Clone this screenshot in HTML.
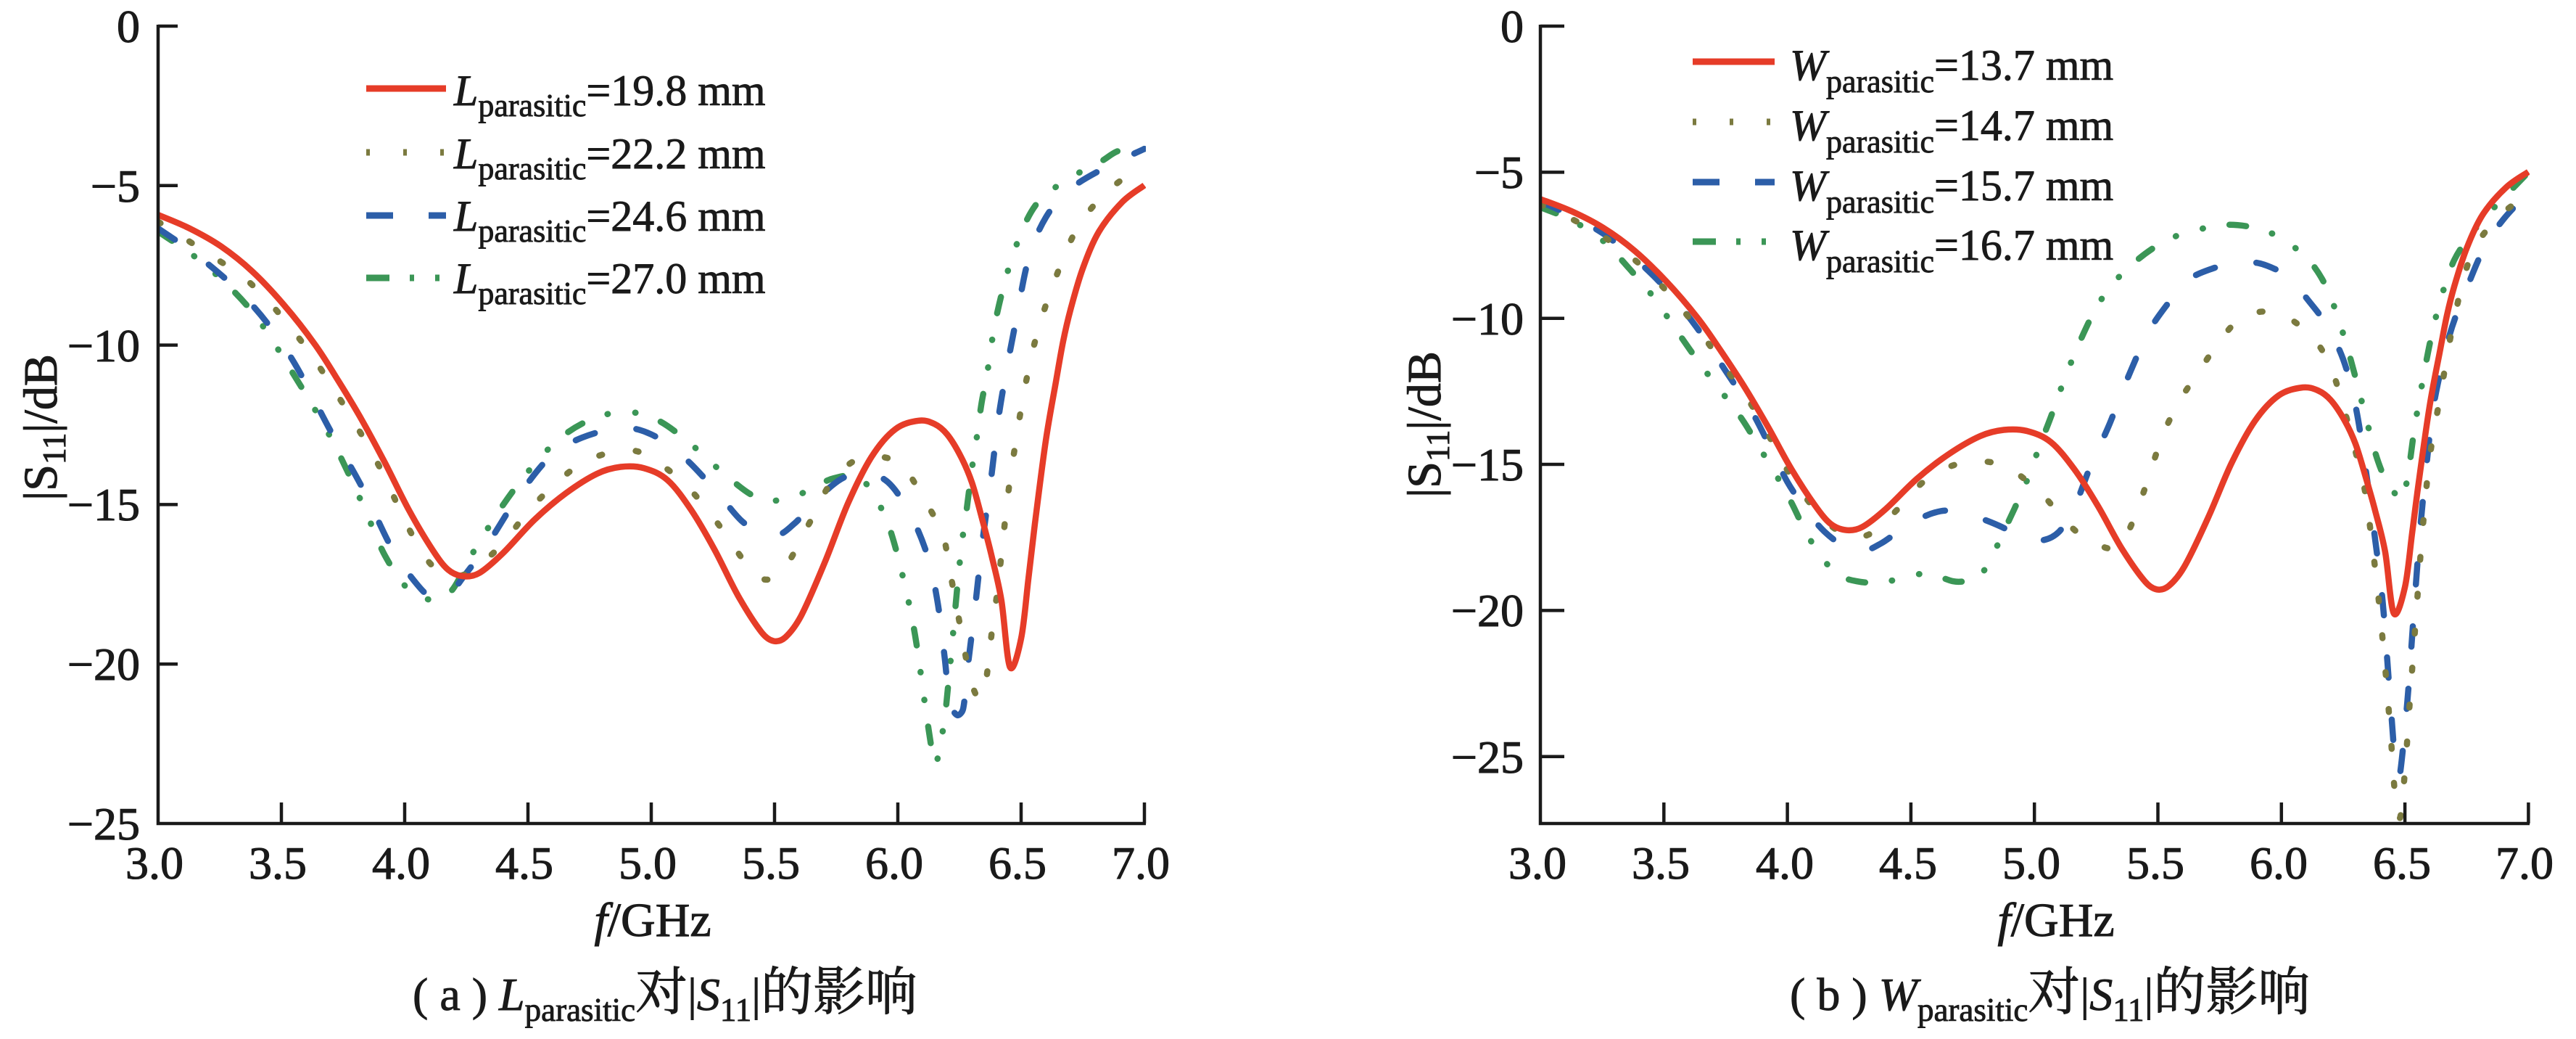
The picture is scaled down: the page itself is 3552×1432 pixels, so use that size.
<!DOCTYPE html>
<html>
<head>
<meta charset="utf-8">
<style>
  html, body { margin: 0; padding: 0; background: #ffffff; overflow: hidden; }
  svg { display: block; }
  text { font-family: "Liberation Serif", "Noto Serif CJK SC", "Noto Sans CJK SC", serif; fill: #1a1a1a; }
  .cjk { font-family: "Noto Serif CJK SC", "Noto Sans CJK SC", serif; }
</style>
</head>
<body>
<svg id="chart" width="3552" height="1432" viewBox="0 0 3552 1432" xmlns="http://www.w3.org/2000/svg" font-family="Liberation Serif, Noto Serif CJK SC, serif">
  <rect x="0" y="0" width="3552" height="1432" fill="#ffffff"/>
  <defs>
    <clipPath id="clipL"><rect x="218" y="0" width="1362" height="1137"/></clipPath>
    <clipPath id="clipR"><rect x="2124" y="0" width="1364" height="1137"/></clipPath>
  </defs>

  <!-- ============ LEFT PLOT ============ -->
  <g id="curvesL" clip-path="url(#clipL)" fill="none" stroke-width="8.5"></g>

  <g stroke="#1a1a1a" stroke-width="4.5" fill="none">
    <path d="M218,34 V1135 H1580"/>
    <path d="M218,36 H245"/>
    <path d="M218,255.8 H245"/>
    <path d="M218,475.6 H245"/>
    <path d="M218,695.4 H245"/>
    <path d="M218,915.2 H245"/>
    <path d="M388,1135 V1106"/>
    <path d="M558,1135 V1106"/>
    <path d="M728,1135 V1106"/>
    <path d="M898,1135 V1106"/>
    <path d="M1068,1135 V1106"/>
    <path d="M1238,1135 V1106"/>
    <path d="M1408,1135 V1106"/>
    <path d="M1578,1135 V1106"/>
  </g>

  <g font-size="64" text-anchor="end" stroke="#1a1a1a" stroke-width="1.1">
    <text x="193" y="58">0</text>
    <text x="193" y="278">−5</text>
    <text x="193" y="498">−10</text>
    <text x="193" y="717">−15</text>
    <text x="193" y="937">−20</text>
    <text x="193" y="1157">−25</text>
  </g>
  <g font-size="64" text-anchor="middle" stroke="#1a1a1a" stroke-width="1.1">
    <text x="213" y="1211">3.0</text>
    <text x="383" y="1211">3.5</text>
    <text x="553" y="1211">4.0</text>
    <text x="723" y="1211">4.5</text>
    <text x="893" y="1211">5.0</text>
    <text x="1063" y="1211">5.5</text>
    <text x="1233" y="1211">6.0</text>
    <text x="1403" y="1211">6.5</text>
    <text x="1573" y="1211">7.0</text>
  </g>

  <text font-size="66" text-anchor="middle" transform="translate(78,589) rotate(-90)" stroke="#1a1a1a" stroke-width="1.1">|S<tspan font-size="45" dy="12">11</tspan><tspan dy="-12">|/dB</tspan></text>
  <text font-size="66" x="900" y="1290" text-anchor="middle" stroke="#1a1a1a" stroke-width="1.0"><tspan font-style="italic">f</tspan>/GHz</text>

  <!-- left legend -->
  <g fill="none" stroke-width="9">
    <path d="M505,122 H615" stroke="#e63c28"/>
    <path d="M505,210 H615" stroke="#7b7a3f" stroke-dasharray="5 46"/>
    <path d="M505,297 H615" stroke="#2c5ea8" stroke-dasharray="37 49"/>
    <path d="M505,383 H615" stroke="#3b9656" stroke-dasharray="32 28 6 29 6 29"/>
  </g>
  <g font-size="60" stroke="#1a1a1a" stroke-width="0.9">
    <text x="626" y="145"><tspan font-style="italic">L</tspan><tspan font-size="44" dy="15">parasitic</tspan><tspan dy="-15">=19.8 mm</tspan></text>
    <text x="626" y="232"><tspan font-style="italic">L</tspan><tspan font-size="44" dy="15">parasitic</tspan><tspan dy="-15">=22.2 mm</tspan></text>
    <text x="626" y="318"><tspan font-style="italic">L</tspan><tspan font-size="44" dy="15">parasitic</tspan><tspan dy="-15">=24.6 mm</tspan></text>
    <text x="626" y="404"><tspan font-style="italic">L</tspan><tspan font-size="44" dy="15">parasitic</tspan><tspan dy="-15">=27.0 mm</tspan></text>
  </g>

  <!-- left caption -->
  <text x="569" y="1392" font-size="64" stroke="#1a1a1a" stroke-width="0.9">( a ) <tspan font-style="italic">L</tspan><tspan font-size="45" dy="15">parasitic</tspan><tspan dy="-15" font-size="72" class="cjk">对</tspan>|<tspan font-style="italic">S</tspan><tspan font-size="45" dy="15">11</tspan><tspan dy="-15">|</tspan><tspan font-size="72" class="cjk">的影响</tspan></text>

  <!-- ============ RIGHT PLOT ============ -->
  <g id="curvesR" clip-path="url(#clipR)" fill="none" stroke-width="8.5"></g>

  <g stroke="#1a1a1a" stroke-width="4.5" fill="none">
    <path d="M2124,34 V1135 H3488"/>
    <path d="M2124,36 H2157"/>
    <path d="M2124,237.35 H2157"/>
    <path d="M2124,438.7 H2157"/>
    <path d="M2124,640.05 H2157"/>
    <path d="M2124,841.4 H2157"/>
    <path d="M2124,1042.75 H2157"/>
    <path d="M2294.3,1135 V1106"/>
    <path d="M2464.6,1135 V1106"/>
    <path d="M2634.9,1135 V1106"/>
    <path d="M2805.2,1135 V1106"/>
    <path d="M2975.5,1135 V1106"/>
    <path d="M3145.8,1135 V1106"/>
    <path d="M3316.1,1135 V1106"/>
    <path d="M3486.4,1135 V1106"/>
  </g>

  <g font-size="64" text-anchor="end" stroke="#1a1a1a" stroke-width="1.1">
    <text x="2101" y="58">0</text>
    <text x="2101" y="259">−5</text>
    <text x="2101" y="461">−10</text>
    <text x="2101" y="662">−15</text>
    <text x="2101" y="863">−20</text>
    <text x="2101" y="1065">−25</text>
  </g>
  <g font-size="64" text-anchor="middle" stroke="#1a1a1a" stroke-width="1.1">
    <text x="2120" y="1211">3.0</text>
    <text x="2290" y="1211">3.5</text>
    <text x="2461" y="1211">4.0</text>
    <text x="2631" y="1211">4.5</text>
    <text x="2801" y="1211">5.0</text>
    <text x="2972" y="1211">5.5</text>
    <text x="3142" y="1211">6.0</text>
    <text x="3312" y="1211">6.5</text>
    <text x="3481" y="1211">7.0</text>
  </g>

  <text font-size="66" text-anchor="middle" transform="translate(1986,585) rotate(-90)" stroke="#1a1a1a" stroke-width="1.1">|S<tspan font-size="45" dy="12">11</tspan><tspan dy="-12">|/dB</tspan></text>
  <text font-size="66" x="2835" y="1290" text-anchor="middle" stroke="#1a1a1a" stroke-width="1.0"><tspan font-style="italic">f</tspan>/GHz</text>

  <!-- right legend -->
  <g fill="none" stroke-width="9">
    <path d="M2334,85 H2447" stroke="#e63c28"/>
    <path d="M2334,168 H2447" stroke="#7b7a3f" stroke-dasharray="5 46"/>
    <path d="M2334,251 H2447" stroke="#2c5ea8" stroke-dasharray="37 49"/>
    <path d="M2334,333 H2447" stroke="#3b9656" stroke-dasharray="32 28 6 29 6 29"/>
  </g>
  <g font-size="60" stroke="#1a1a1a" stroke-width="0.9">
    <text x="2468" y="110"><tspan font-style="italic">W</tspan><tspan font-size="44" dy="17">parasitic</tspan><tspan dy="-17">=13.7 mm</tspan></text>
    <text x="2468" y="193"><tspan font-style="italic">W</tspan><tspan font-size="44" dy="17">parasitic</tspan><tspan dy="-17">=14.7 mm</tspan></text>
    <text x="2468" y="276"><tspan font-style="italic">W</tspan><tspan font-size="44" dy="17">parasitic</tspan><tspan dy="-17">=15.7 mm</tspan></text>
    <text x="2468" y="358"><tspan font-style="italic">W</tspan><tspan font-size="44" dy="17">parasitic</tspan><tspan dy="-17">=16.7 mm</tspan></text>
  </g>

  <!-- right caption -->
  <text x="2468" y="1392" font-size="64" stroke="#1a1a1a" stroke-width="0.9">( b ) <tspan font-style="italic">W</tspan><tspan font-size="45" dy="15">parasitic</tspan><tspan dy="-15" font-size="72" class="cjk">对</tspan>|<tspan font-style="italic">S</tspan><tspan font-size="45" dy="15">11</tspan><tspan dy="-15">|</tspan><tspan font-size="72" class="cjk">的影响</tspan></text>
</svg>

<script>
(function(){
  var NS = "http://www.w3.org/2000/svg";
  var RED = [[3.0,-5.92],[3.127,-6.34],[3.254,-6.90],[3.382,-7.69],[3.509,-8.73],[3.636,-9.98],[3.731,-11.12],[3.827,-12.36],[3.922,-13.72],[4.017,-15.17],[4.113,-16.42],[4.176,-17.04],[4.24,-17.25],[4.304,-17.14],[4.399,-16.52],[4.526,-15.48],[4.653,-14.65],[4.781,-14.03],[4.876,-13.82],[4.971,-13.86],[5.067,-14.24],[5.162,-15.17],[5.257,-16.42],[5.353,-17.87],[5.448,-19.01],[5.496,-19.28],[5.544,-19.16],[5.607,-18.5],[5.703,-16.83],[5.798,-14.96],[5.893,-13.51],[5.989,-12.64],[6.084,-12.37],[6.148,-12.47],[6.2,-12.8],[6.256,-13.5],[6.3,-14.3],[6.34,-15.4],[6.38,-16.6],[6.42,-18.0],[6.455,-20.1],[6.50,-19.2],[6.53,-17.3],[6.556,-15.6],[6.6,-13.0],[6.64,-11.2],[6.67,-9.9],[6.70,-8.9],[6.75,-7.6],[6.816,-6.44],[6.911,-5.51],[7.0,-4.99]];
  var LO = [[3.0,-6.13],[3.19,-7.07],[3.38,-8.1],[3.57,-9.77],[3.73,-11.6],[3.89,-13.7],[4.02,-15.8],[4.11,-16.9],[4.21,-17.25],[4.30,-16.9],[4.40,-16.2],[4.53,-14.96],[4.72,-13.7],[4.91,-13.3],[5.03,-13.7],[5.16,-14.55],[5.29,-15.8],[5.38,-16.8],[5.46,-17.35],[5.54,-17.0],[5.64,-15.6],[5.73,-14.3],[5.83,-13.6],[5.93,-13.5],[6.02,-13.8],[6.10,-14.75],[6.18,-15.9],[6.209,-17.0],[6.264,-19.27],[6.293,-20.45],[6.33,-21.1],[6.355,-20.6],[6.368,-19.9],[6.385,-18.75],[6.406,-17.6],[6.421,-16.5],[6.438,-15.3],[6.456,-14.15],[6.479,-13.0],[6.503,-11.86],[6.532,-10.7],[6.57,-9.5],[6.63,-8.1],[6.72,-6.44],[6.82,-5.4],[6.91,-4.8],[7.0,-4.26]];
  var LB = [[3.0,-6.34],[3.19,-7.38],[3.38,-8.73],[3.54,-10.4],[3.70,-12.7],[3.83,-14.5],[3.95,-16.4],[4.05,-17.5],[4.11,-17.9],[4.18,-17.8],[4.24,-17.25],[4.34,-16.2],[4.46,-14.75],[4.59,-13.5],[4.72,-12.9],[4.88,-12.6],[5.00,-12.8],[5.13,-13.5],[5.26,-14.55],[5.38,-15.6],[5.50,-15.96],[5.58,-15.6],[5.67,-14.85],[5.77,-14.2],[5.86,-14.0],[5.96,-14.3],[6.05,-15.3],[6.12,-16.6],[6.16,-18.0],[6.19,-19.8],[6.21,-21.2],[6.24,-21.6],[6.265,-21.4],[6.285,-20.0],[6.315,-18.1],[6.344,-16.1],[6.378,-14.2],[6.408,-12.3],[6.442,-10.73],[6.48,-9.2],[6.53,-7.3],[6.6,-6.0],[6.7,-5.1],[6.85,-4.4],[7.0,-3.85]];
  var LG = [[3.0,-6.44],[3.19,-7.48],[3.38,-8.94],[3.54,-10.8],[3.70,-12.9],[3.83,-15.0],[3.92,-16.6],[4.02,-17.7],[4.11,-17.98],[4.19,-17.7],[4.27,-16.6],[4.40,-15.0],[4.53,-13.7],[4.65,-12.8],[4.78,-12.26],[4.91,-12.1],[5.03,-12.37],[5.16,-13.1],[5.29,-14.0],[5.42,-14.75],[5.53,-14.86],[5.64,-14.55],[5.73,-14.2],[5.83,-14.1],[5.89,-14.55],[5.96,-15.6],[6.02,-17.25],[6.07,-19.1],[6.12,-21.8],[6.15,-23.1],[6.17,-22.6],[6.19,-21.7],[6.205,-20.6],[6.22,-19.4],[6.235,-18.1],[6.25,-16.9],[6.265,-15.9],[6.28,-15.1],[6.30,-13.9],[6.32,-12.9],[6.34,-11.8],[6.36,-11.0],[6.40,-9.1],[6.47,-7.1],[6.56,-5.6],[6.69,-4.8],[6.82,-4.26],[6.9,-3.9],[7.0,-3.85]];

  var RO = [[3.0,-6.1],[3.127,-6.6],[3.254,-7.2],[3.382,-8.0],[3.509,-9.05],[3.636,-10.35],[3.75,-11.7],[3.85,-12.9],[3.93,-14.1],[4.0,-15.2],[4.08,-16.2],[4.15,-16.9],[4.22,-17.35],[4.28,-17.5],[4.35,-17.3],[4.45,-16.5],[4.55,-15.6],[4.65,-15.1],[4.74,-14.9],[4.80,-14.9],[4.88,-15.05],[4.96,-15.5],[5.04,-16.1],[5.12,-16.9],[5.2,-17.5],[5.27,-17.8],[5.33,-17.85],[5.38,-17.3],[5.44,-16.0],[5.52,-14.0],[5.59,-12.8],[5.66,-11.9],[5.74,-10.9],[5.82,-10.1],[5.90,-9.8],[5.97,-9.8],[6.03,-10.0],[6.08,-10.3],[6.15,-10.9],[6.21,-11.9],[6.27,-13.6],[6.31,-14.9],[6.34,-16.0],[6.38,-18.6],[6.41,-21.0],[6.44,-24.0],[6.46,-26.3],[6.48,-27.1],[6.50,-25.5],[6.52,-23.1],[6.545,-20.2],[6.57,-17.4],[6.60,-14.8],[6.64,-12.8],[6.70,-10.0],[6.77,-7.8],[6.87,-6.6],[6.94,-6.1],[7.0,-5.7]];
  var RB = [[3.0,-6.0],[3.127,-6.5],[3.254,-7.1],[3.382,-7.95],[3.509,-9.0],[3.636,-10.35],[3.75,-11.8],[3.85,-13.1],[3.93,-14.4],[4.0,-15.6],[4.08,-16.6],[4.15,-17.3],[4.23,-17.8],[4.31,-17.95],[4.38,-17.7],[4.45,-17.3],[4.55,-16.8],[4.62,-16.6],[4.67,-16.6],[4.73,-16.7],[4.80,-16.9],[4.87,-17.15],[4.95,-17.5],[5.03,-17.6],[5.10,-17.3],[5.16,-16.5],[5.23,-15.0],[5.30,-13.7],[5.38,-12.0],[5.46,-10.5],[5.54,-9.5],[5.62,-8.7],[5.72,-8.3],[5.82,-8.1],[5.90,-8.1],[5.97,-8.3],[6.03,-8.6],[6.11,-9.4],[6.18,-10.2],[6.25,-11.4],[6.30,-13.0],[6.34,-15.1],[6.38,-17.6],[6.41,-19.7],[6.44,-23.0],[6.465,-25.6],[6.48,-25.6],[6.51,-23.1],[6.535,-20.2],[6.56,-17.4],[6.59,-14.8],[6.62,-12.8],[6.68,-10.6],[6.74,-9.2],[6.82,-7.6],[6.90,-6.6],[7.0,-5.7]];
  var RG = [[3.0,-6.2],[3.127,-6.65],[3.254,-7.35],[3.36,-8.3],[3.46,-9.3],[3.55,-10.4],[3.65,-11.6],[3.75,-12.7],[3.82,-13.5],[3.885,-14.4],[3.95,-15.3],[4.016,-16.3],[4.08,-17.4],[4.15,-18.3],[4.21,-18.8],[4.28,-19.0],[4.35,-19.05],[4.41,-19.0],[4.48,-18.85],[4.54,-18.75],[4.60,-18.8],[4.67,-19.0],[4.72,-19.0],[4.77,-18.9],[4.82,-18.3],[4.87,-17.4],[4.92,-16.5],[4.97,-15.55],[5.02,-14.4],[5.07,-13.3],[5.13,-11.9],[5.20,-10.5],[5.26,-9.5],[5.33,-8.7],[5.41,-8.05],[5.49,-7.55],[5.57,-7.2],[5.66,-6.98],[5.72,-6.85],[5.79,-6.8],[5.86,-6.85],[5.92,-6.98],[5.99,-7.2],[6.05,-7.55],[6.12,-8.1],[6.18,-8.9],[6.23,-10.0],[6.28,-11.4],[6.33,-13.0],[6.38,-14.6],[6.42,-15.5],[6.46,-16.0],[6.49,-16.2],[6.515,-15.2],[6.54,-13.7],[6.575,-12.0],[6.61,-10.5],[6.65,-9.2],[6.70,-8.0],[6.77,-7.1],[6.84,-6.4],[6.92,-5.7],[7.0,-5.0]];

  function build(data, x0, sx, y0, sy){
    var p = data.map(function(d){ return [x0 + sx*(d[0]-3), y0 - sy*d[1]]; });
    var s = "M" + p[0][0].toFixed(1) + "," + p[0][1].toFixed(1);
    for (var i = 0; i < p.length - 1; i++){
      var p0 = p[i-1] || p[i], p1 = p[i], p2 = p[i+1], p3 = p[i+2] || p[i+1];
      var seg = Math.hypot(p2[0]-p1[0], p2[1]-p1[1]);
      var t1 = [(p2[0]-p0[0])/6, (p2[1]-p0[1])/6];
      var t2 = [(p3[0]-p1[0])/6, (p3[1]-p1[1])/6];
      var l1 = Math.hypot(t1[0], t1[1]), l2 = Math.hypot(t2[0], t2[1]);
      var lim = seg*0.4;
      if (l1 > lim && l1 > 0){ t1 = [t1[0]*lim/l1, t1[1]*lim/l1]; }
      if (l2 > lim && l2 > 0){ t2 = [t2[0]*lim/l2, t2[1]*lim/l2]; }
      var c1 = [p1[0]+t1[0], p1[1]+t1[1]];
      var c2 = [p2[0]-t2[0], p2[1]-t2[1]];
      s += " C" + c1[0].toFixed(1) + "," + c1[1].toFixed(1) + " " + c2[0].toFixed(1) + "," + c2[1].toFixed(1) + " " + p2[0].toFixed(1) + "," + p2[1].toFixed(1);
    }
    return s;
  }
  function add(g, d, color, dash){
    var el = document.createElementNS(NS, "path");
    el.setAttribute("d", d);
    el.setAttribute("stroke", color);
    el.setAttribute("stroke-linejoin", "round");
    el.setAttribute("stroke-linecap", dash ? "round" : "butt");
    if (dash) el.setAttribute("stroke-dasharray", dash);
    g.appendChild(el);
  }
  var OL = "#7b7a3f", BL = "#2c5ea8", GR = "#3b9656", RD = "#e63c28";
  var dOl = "4 47", dBl = "28 58", dGr = "23 37 0.5 38 0.5 37";

  var gL = document.getElementById("curvesL");
  var Lx0 = 218, Lsx = 340, Ly0 = 36, Lsy = 43.96;
  add(gL, build(LG, Lx0, Lsx, Ly0, Lsy), GR, dGr);
  add(gL, build(LB, Lx0, Lsx, Ly0, Lsy), BL, dBl);
  add(gL, build(LO, Lx0, Lsx, Ly0, Lsy), OL, dOl);
  add(gL, build(RED, Lx0, Lsx, Ly0, Lsy), RD, null);

  var gR = document.getElementById("curvesR");
  var Rx0 = 2124, Rsx = 340.6, Ry0 = 36, Rsy = 40.27;
  add(gR, build(RG, Rx0, Rsx, Ry0, Rsy), GR, dGr);
  add(gR, build(RB, Rx0, Rsx, Ry0, Rsy), BL, dBl);
  add(gR, build(RO, Rx0, Rsx, Ry0, Rsy), OL, dOl);
  add(gR, build(RED, Rx0, Rsx, Ry0, Rsy), RD, null);
})();
</script>
</body>
</html>
